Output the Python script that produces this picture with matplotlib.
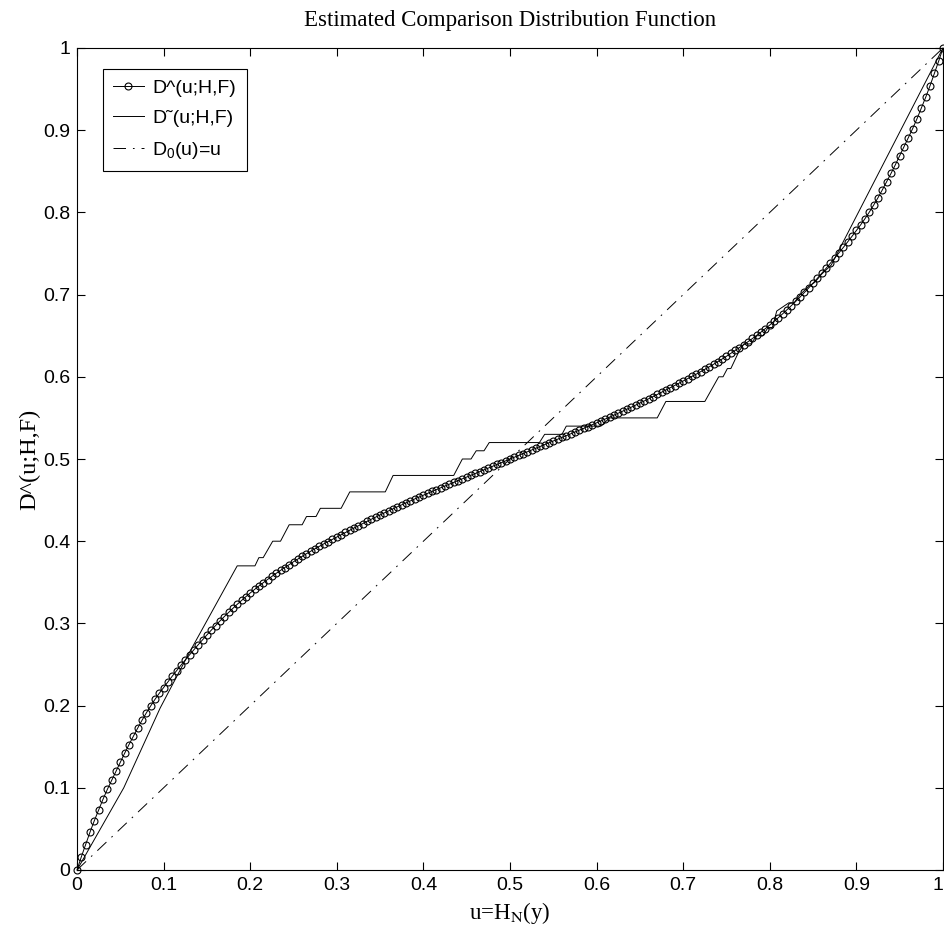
import numpy as np
import matplotlib
matplotlib.use('Agg')
import matplotlib.pyplot as plt
from matplotlib.font_manager import FontProperties

plt.rcParams['mathtext.fontset'] = 'custom'
plt.rcParams['mathtext.rm'] = 'Liberation Sans'
plt.rcParams['lines.scale_dashes'] = False

# estimated comparison distribution, sampled every 0.005 in u
u_hat = np.linspace(0, 1, 201)
d_hat = [
    0.0000, 0.0160, 0.0310, 0.0460, 0.0600, 0.0730, 0.0860, 0.0980, 0.1090, 0.1200,
    0.1310, 0.1420, 0.1525, 0.1625, 0.1725, 0.1820, 0.1910, 0.1995, 0.2075, 0.2150,
    0.2220, 0.2290, 0.2358, 0.2425, 0.2491, 0.2555, 0.2618, 0.2680, 0.2741, 0.2801,
    0.2860, 0.2918, 0.2974, 0.3029, 0.3082, 0.3133, 0.3183, 0.3232, 0.3279, 0.3325,
    0.3370, 0.3413, 0.3455, 0.3495, 0.3534, 0.3572, 0.3609, 0.3645, 0.3680, 0.3715,
    0.3750, 0.3783, 0.3816, 0.3848, 0.3879, 0.3909, 0.3939, 0.3968, 0.3996, 0.4023,
    0.4050, 0.4078, 0.4106, 0.4134, 0.4161, 0.4188, 0.4215, 0.4242, 0.4268, 0.4294,
    0.4320, 0.4345, 0.4370, 0.4395, 0.4419, 0.4443, 0.4467, 0.4491, 0.4514, 0.4537,
    0.4560, 0.4583, 0.4606, 0.4628, 0.4650, 0.4672, 0.4694, 0.4716, 0.4738, 0.4759,
    0.4780, 0.4802, 0.4824, 0.4846, 0.4868, 0.4890, 0.4912, 0.4934, 0.4956, 0.4978,
    0.5000,
    0.5022, 0.5044, 0.5066, 0.5088, 0.5110, 0.5132, 0.5154, 0.5176, 0.5198, 0.5220,
    0.5241, 0.5262, 0.5284, 0.5306, 0.5328, 0.5350, 0.5372, 0.5394, 0.5417, 0.5440,
    0.5463, 0.5486, 0.5509, 0.5533, 0.5557, 0.5581, 0.5605, 0.5630, 0.5655, 0.5680,
    0.5706, 0.5732, 0.5758, 0.5785, 0.5812, 0.5839, 0.5866, 0.5894, 0.5922, 0.5950,
    0.5977, 0.6004, 0.6032, 0.6061, 0.6091, 0.6121, 0.6152, 0.6184, 0.6217, 0.6250,
    0.6285, 0.6320, 0.6355, 0.6391, 0.6428, 0.6466, 0.6505, 0.6545, 0.6587, 0.6630,
    0.6675, 0.6721, 0.6768, 0.6817, 0.6867, 0.6918, 0.6971, 0.7026, 0.7082, 0.7140,
    0.7199, 0.7259, 0.7320, 0.7382, 0.7445, 0.7509, 0.7575, 0.7642, 0.7710, 0.7780,
    0.7850, 0.7925, 0.8005, 0.8090, 0.8180, 0.8275, 0.8375, 0.8475, 0.8580, 0.8690,
    0.8800, 0.8910, 0.9020, 0.9140, 0.9270, 0.9400, 0.9540, 0.9690, 0.9840, 1.0000,
]

# raw (step-like) comparison distribution
u_tilde = [0, 0.054, 0.096, 0.130, 0.185, 0.2055, 0.210, 0.215, 0.226, 0.235,
           0.245, 0.260, 0.265, 0.276, 0.281, 0.305, 0.315, 0.356, 0.365, 0.435,
           0.445, 0.455, 0.461, 0.470, 0.476, 0.534, 0.540, 0.560, 0.565, 0.605,
           0.615, 0.670, 0.680, 0.725, 0.741, 0.746, 0.751, 0.755, 0.764, 0.770,
           0.778, 0.785, 0.792, 0.798, 0.803, 0.808, 0.822, 0.828, 0.835, 0.845,
           0.852, 0.860, 0.871, 1.0]
d_tilde = [0, 0.100, 0.197, 0.265, 0.37, 0.37, 0.38, 0.38, 0.40, 0.40,
           0.42, 0.42, 0.43, 0.43, 0.44, 0.44, 0.46, 0.46, 0.48, 0.48,
           0.50, 0.50, 0.51, 0.51, 0.52, 0.52, 0.53, 0.53, 0.54, 0.54,
           0.55, 0.55, 0.57, 0.57, 0.60, 0.60, 0.61, 0.61, 0.63, 0.64,
           0.64, 0.65, 0.65, 0.66, 0.66, 0.68, 0.69, 0.69, 0.70, 0.71,
           0.715, 0.725, 0.736, 1.0]

# null line D0(u)=u
u_null = [0, 1]
d_null = [0, 1]

ticks = [0, 0.1, 0.2, 0.3, 0.4, 0.5, 0.6, 0.7, 0.8, 0.9, 1]
tick_labels = ['0', '0.1', '0.2', '0.3', '0.4', '0.5', '0.6', '0.7', '0.8', '0.9', '1']

fig = plt.figure(figsize=(9.45, 9.43), dpi=100)
ax = fig.add_axes([77/945, 73/943, 866/945, 822/943])

ax.plot(u_hat, d_hat, '-', color='black', lw=0.7, marker='o', markersize=5,
        mfc='none', mec='black', mew=0.8, clip_on=False, label='D^(u;H,F)')
ax.plot(u_tilde, d_tilde, '-', color='black', lw=0.7, label='D\u02dc(u;H,F)')
ax.plot(u_null, d_null, color='black', lw=0.7, linestyle=(0, (9, 5, 1.2, 5)),
        label='D$_0$(u)=u')

ax.set_xlim(0, 1)
ax.set_ylim(0, 1)
ax.set_xticks(ticks)
ax.set_yticks(ticks)
ax.set_xticklabels(tick_labels, fontfamily='Liberation Sans', fontsize=14)
ax.set_yticklabels(tick_labels, fontfamily='Liberation Sans', fontsize=14)
ax.get_xticklabels()[-1].set_horizontalalignment('right')
ax.tick_params(direction='in', length=6, width=0.8, top=True, right=True, pad=5)
for s in ax.spines.values():
    s.set_linewidth(0.8)

ax.set_title('Estimated Comparison Distribution Function',
             fontfamily='Liberation Serif', fontsize=16.5, pad=16)
ax.set_xlabel(r'u=H$_\mathrm{N}$(y)', fontfamily='Liberation Serif', fontsize=16.5,
              math_fontfamily='stix', labelpad=4)
ax.set_ylabel('D^(u;H,F)', fontfamily='Liberation Serif', fontsize=17.5, labelpad=2)

leg_font = FontProperties(family='Liberation Sans', size=14)
leg = ax.legend(loc='upper left', bbox_to_anchor=(0.0297, 0.975), borderaxespad=0,
                prop=leg_font, fancybox=False, framealpha=1, edgecolor='black',
                handlelength=1.55, handletextpad=0.45, labelspacing=0.65,
                borderpad=0.55)
leg.get_frame().set_linewidth(0.8)

fig.savefig('out.png', dpi=100)
